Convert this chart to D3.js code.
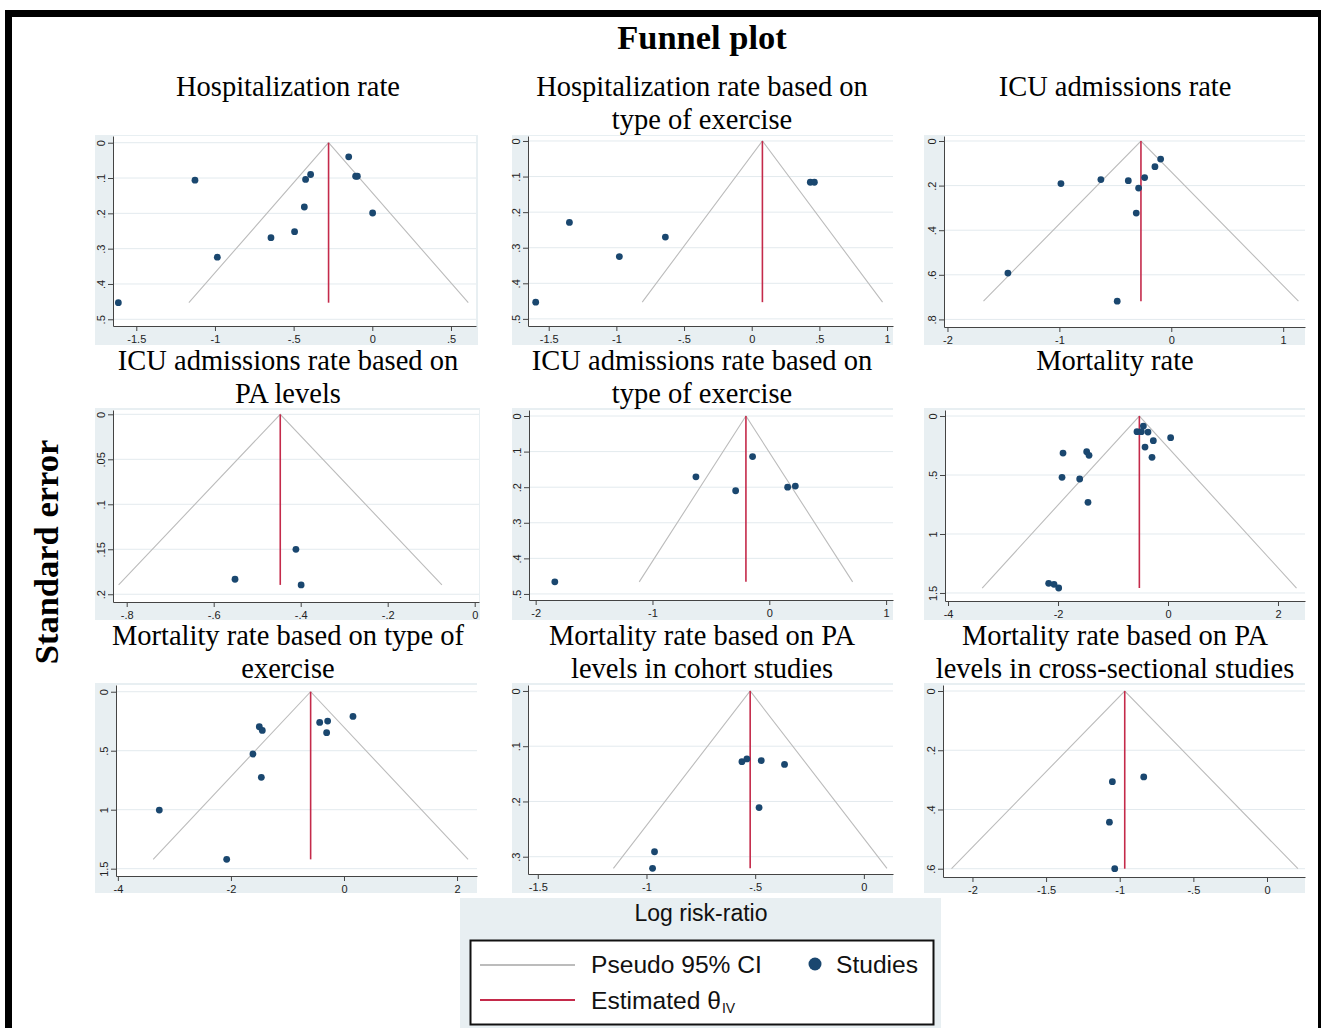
<!DOCTYPE html>
<html><head><meta charset="utf-8">
<script src="https://cdn.jsdelivr.net/npm/d3@7"></script>
<style>body{margin:0;background:#fff}svg{display:block}</style>
</head><body>
<script>
// ---------------- DATA ----------------
const panelTitles = [
  ["Hospitalization rate"],
  ["Hospitalization rate based on", "type of exercise"],
  ["ICU admissions rate"],
  ["ICU admissions rate based on", "PA levels"],
  ["ICU admissions rate based on", "type of exercise"],
  ["Mortality rate"],
  ["Mortality rate based on type of", "exercise"],
  ["Mortality rate based on PA", "levels in cohort studies"],
  ["Mortality rate based on PA", "levels in cross-sectional studies"]
];

// log risk-ratio and standard error of each study, per panel
const hospLogRR   = [-1.127,-1.614,-0.985,-0.644,-0.494,-0.432,-0.424,-0.392,-0.150,-0.106,-0.095,0.002];
const hospSE      = [0.106,0.453,0.324,0.269,0.252,0.182,0.104,0.090,0.040,0.095,0.095,0.199];
const hospExLogRR = [-1.596,-1.347,-0.978,-0.638,0.433,0.463];
const hospExSE    = [0.453,0.229,0.325,0.270,0.116,0.116];
const icuLogRR    = [-0.095,-0.146,-0.238,-0.384,-0.629,-0.986,-0.292,-0.313,-1.460,-0.483];
const icuSE       = [0.081,0.115,0.164,0.178,0.173,0.191,0.211,0.323,0.592,0.718];
const icuPALogRR  = [-0.551,-0.411,-0.399];
const icuPASE     = [0.1833,0.150,0.1896];
const icuExLogRR  = [-1.836,-0.628,-0.288,-0.143,0.157,0.223];
const icuExSE     = [0.466,0.171,0.210,0.114,0.200,0.197];
const mortLogRR   = [-0.448,-0.564,-0.485,-0.364,-0.267,0.048,-0.418,-0.291,-1.909,-1.479,-1.436,-1.927,-1.606,-1.455,-2.170,-2.073,-1.988];
const mortSE      = [0.085,0.133,0.133,0.136,0.209,0.184,0.263,0.350,0.314,0.302,0.333,0.520,0.534,0.732,1.418,1.427,1.458];
const mortExLogRR = [-3.267,-2.075,-1.498,-1.445,-1.610,-1.462,-0.430,-0.289,-0.307,0.159];
const mortExSE    = [1.003,1.421,0.297,0.328,0.528,0.726,0.260,0.249,0.347,0.209];
const mortCohLogRR= [-0.561,-0.538,-0.472,-0.365,-0.482,-0.963,-0.972];
const mortCohSE   = [0.128,0.123,0.126,0.133,0.211,0.291,0.321];
const mortCSLogRR = [-1.050,-0.837,-1.070,-1.034];
const mortCSSE    = [0.306,0.290,0.443,0.600];

// estimated theta (IV) per panel
const thetaIV = [-0.278, 0.079, -0.271, -0.447, -0.200, -0.521, -0.590, -0.523, -0.966];

// axis ranges and ticks
const xDomains = [[-1.648,0.659],[-1.653,1.044],[-2.031,1.195],[-0.8315,0.0099],[-2.057,1.059],[-4.055,2.491],[-4.033,2.353],[-1.545,0.134],[-2.200,0.258]];
const yDomains = [[-0.019,0.519],[-0.014,0.520],[-0.0224,0.834],[-0.0048,0.2086],[-0.0169,0.517],[-0.051,1.568],[-0.057,1.562],[-0.0108,0.3313],[-0.0203,0.628]];
const xTicks = [[-1.5,-1,-0.5,0,0.5],[-1.5,-1,-0.5,0,0.5,1],[-2,-1,0,1],[-0.8,-0.6,-0.4,-0.2,0],[-2,-1,0,1],[-4,-2,0,2],[-4,-2,0,2],[-1.5,-1,-0.5,0],[-2,-1.5,-1,-0.5,0]];
const yTicks = [[0,0.1,0.2,0.3,0.4,0.5],[0,0.1,0.2,0.3,0.4,0.5],[0,0.2,0.4,0.6,0.8],[0,0.05,0.1,0.15,0.2],[0,0.1,0.2,0.3,0.4,0.5],[0,0.5,1,1.5],[0,0.5,1,1.5],[0,0.1,0.2,0.3],[0,0.2,0.4,0.6]];

const mainTitle = "Funnel plot";
const yAxisTitle = "Standard error";
const xAxisTitle = "Log risk-ratio";
const legendLabels = ["Pseudo 95% CI", "Studies", "Estimated θ", "IV"];

// ---------------- BUILD ----------------
const effects = [hospLogRR, hospExLogRR, icuLogRR, icuPALogRR, icuExLogRR, mortLogRR, mortExLogRR, mortCohLogRR, mortCSLogRR];
const ses = [hospSE, hospExSE, icuSE, icuPASE, icuExSE, mortSE, mortExSE, mortCohSE, mortCSSE];

const layout = [
  {bg:[95,135,478,345],  plot:[113,136,476,326]},
  {bg:[512,135,893,345], plot:[528,136,893,326]},
  {bg:[924,135,1305,345],plot:[944,136,1305,327]},
  {bg:[95,408,480,620],  plot:[113,410,479,602]},
  {bg:[512,408,893,620], plot:[529,410,893,600]},
  {bg:[924,408,1305,620],plot:[945,410,1305,601]},
  {bg:[95,683,477,893],  plot:[116,685,477,876]},
  {bg:[512,683,893,893], plot:[528,685,893,874]},
  {bg:[924,683,1305,893],plot:[943,685,1305,877]}
];
const titleCx = [288, 702, 1115];
const titleBase = [96, 370, 645];

const BLUEBG = "#e8eff2", GRID = "#e3eaee", DOT = "#1a476f", RED = "#c42a4a", CI = "#bcbcbc";
const SERIF = "'Liberation Serif','Times New Roman',serif";
const SANS = "'Liberation Sans',Arial,sans-serif";
const fmt = v => String(+v.toFixed(3)).replace(/^(-?)0\./, "$1.");

const W = 1321, H = 1028;
const svg = d3.select("body").append("svg").attr("width", W).attr("height", H);
svg.append("rect").attr("width", W).attr("height", H).attr("fill", "#fff");

// main title
svg.append("text").attr("x", 702).attr("y", 49).attr("text-anchor", "middle")
  .attr("font-family", SERIF).attr("font-weight", "bold").attr("font-size", 34.5).text(mainTitle);

// y axis title
svg.append("text").attr("transform", "translate(58,552) rotate(-90)").attr("text-anchor", "middle")
  .attr("font-family", SERIF).attr("font-weight", "bold").attr("font-size", 34.5).text(yAxisTitle);

effects.forEach((xs, i) => {
  const L = layout[i];
  const col = i % 3, row = Math.floor(i / 3);
  const g = svg.append("g");
  g.append("rect").attr("x", L.bg[0]).attr("y", L.bg[1]).attr("width", L.bg[2]-L.bg[0]).attr("height", L.bg[3]-L.bg[1]).attr("fill", BLUEBG);
  const [pl, pt, pr, pb] = L.plot;
  g.append("rect").attr("x", pl).attr("y", pt).attr("width", pr-pl).attr("height", pb-pt).attr("fill", "#fff");

  const x = d3.scaleLinear().domain(xDomains[i]).range([pl, pr]);
  const y = d3.scaleLinear().domain(yDomains[i]).range([pt, pb]);

  // grid
  g.selectAll(".grid").data(yTicks[i]).join("line")
    .attr("x1", pl).attr("x2", pr).attr("y1", d => y(d)).attr("y2", d => y(d))
    .attr("stroke", GRID).attr("stroke-width", 1);

  // funnel
  const se = ses[i];
  const maxSE = d3.max(se);
  const th = thetaIV[i];
  const funnel = [[th - 1.96*maxSE, maxSE], [th, 0], [th + 1.96*maxSE, maxSE]];
  g.append("path").attr("d", d3.line().x(d => x(d[0])).y(d => y(d[1]))(funnel))
    .attr("fill", "none").attr("stroke", CI).attr("stroke-width", 1.1);
  g.append("line").attr("x1", x(th)).attr("x2", x(th)).attr("y1", y(0)).attr("y2", y(maxSE))
    .attr("stroke", RED).attr("stroke-width", 1.6);

  // points
  g.selectAll(".pt").data(xs.map((v, k) => [v, se[k]])).join("circle")
    .attr("cx", d => x(d[0])).attr("cy", d => y(d[1])).attr("r", 3.4).attr("fill", DOT);

  // axes
  const xa = g.append("g").attr("transform", `translate(0,${pb})`)
    .call(d3.axisBottom(x).tickValues(xTicks[i]).tickFormat(fmt).tickSize(5).tickSizeOuter(0).tickPadding(4));
  const ya = g.append("g").attr("transform", `translate(${pl},0)`)
    .call(d3.axisLeft(y).tickValues(yTicks[i]).tickFormat(fmt).tickSize(5).tickSizeOuter(0));
  [xa, ya].forEach(a => {
    a.select(".domain").attr("stroke", "#444");
    a.selectAll(".tick line").attr("stroke", "#444");
    a.selectAll("text").attr("font-family", SANS).attr("font-size", 11).attr("fill", "#222");
  });
  ya.selectAll(".tick text").attr("transform", "rotate(-90)").attr("x", 0).attr("y", -8.5)
    .attr("dy", 0).attr("text-anchor", "middle");

  // title
  panelTitles[i].forEach((t, k) => {
    svg.append("text").attr("x", titleCx[col]).attr("y", titleBase[row] + k*33)
      .attr("text-anchor", "middle").attr("font-family", SERIF).attr("font-size", 28.5).text(t);
  });
});

// legend area
const lg = svg.append("g");
lg.append("rect").attr("x", 460).attr("y", 898).attr("width", 481).attr("height", 140).attr("fill", BLUEBG);
lg.append("text").attr("x", 701).attr("y", 921).attr("text-anchor", "middle")
  .attr("font-family", SANS).attr("font-size", 23).attr("fill", "#111").text(xAxisTitle);
lg.append("rect").attr("x", 470.5).attr("y", 940.5).attr("width", 463).attr("height", 84)
  .attr("fill", "#fff").attr("stroke", "#111").attr("stroke-width", 2);
lg.append("line").attr("x1", 480).attr("x2", 575).attr("y1", 965).attr("y2", 965).attr("stroke", CI).attr("stroke-width", 2);
lg.append("line").attr("x1", 480).attr("x2", 575).attr("y1", 1000).attr("y2", 1000).attr("stroke", RED).attr("stroke-width", 2);
lg.append("text").attr("x", 591).attr("y", 973).attr("font-family", SANS).attr("font-size", 24.6).attr("fill", "#111").text(legendLabels[0]);
lg.append("circle").attr("cx", 815).attr("cy", 964).attr("r", 6.5).attr("fill", DOT);
lg.append("text").attr("x", 836).attr("y", 973).attr("font-family", SANS).attr("font-size", 24.6).attr("fill", "#111").text(legendLabels[1]);
const est = lg.append("text").attr("x", 591).attr("y", 1009).attr("font-family", SANS).attr("font-size", 24.6).attr("fill", "#111");
est.append("tspan").text(legendLabels[2]);
est.append("tspan").attr("font-size", 14).attr("dy", 4).attr("dx", 1).text(legendLabels[3]);

// outer border
svg.append("rect").attr("x", 8.5).attr("y", 13.5).attr("width", 1313).attr("height", 1200)
  .attr("fill", "none").attr("stroke", "#000").attr("stroke-width", 7);
</script>
</body></html>
